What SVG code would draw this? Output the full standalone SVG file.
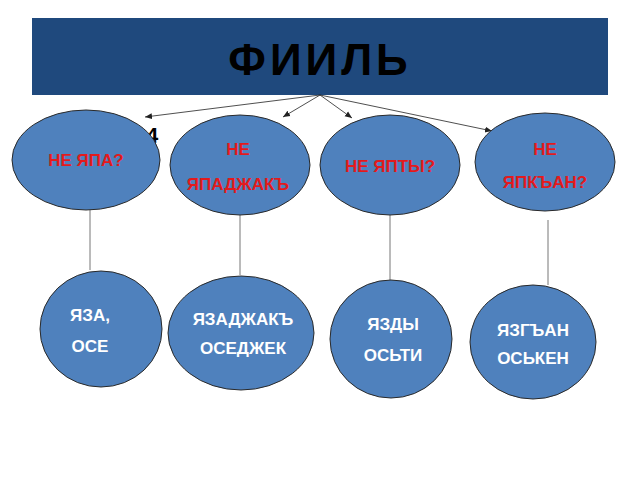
<svg xmlns="http://www.w3.org/2000/svg" width="640" height="480" viewBox="0 0 640 480">
<style>
.n{fill:#4f81bd;stroke:#2a2a2a;stroke-width:1}
.r{fill:#e31a1c;font:bold 17px "Liberation Sans",Arial,sans-serif;text-anchor:middle}
.w{fill:#fff;font:bold 17px "Liberation Sans",Arial,sans-serif;text-anchor:middle}
.c{stroke:#222;stroke-width:0.8;fill:none}
.v{stroke:#777;stroke-width:1}
</style>
<defs><marker id="a" markerWidth="8" markerHeight="8" refX="7" refY="4" orient="auto" markerUnits="userSpaceOnUse"><path d="M0,1 L7,4 L0,7 z" fill="#222"/></marker></defs>
<rect width="640" height="480" fill="#fff"/>
<g id="header"><rect x="32" y="18" width="576" height="77" fill="#1f497d"/>
<text x="320" y="75" font-family="Liberation Sans,Arial,sans-serif" font-weight="bold" font-size="44" text-anchor="middle" letter-spacing="4" fill="#000">ФИИЛЬ</text></g>
<g id="connectors">
<line class="c" x1="320" y1="95" x2="145" y2="117" marker-end="url(#a)"/>
<line class="c" x1="320" y1="95" x2="283" y2="117" marker-end="url(#a)"/>
<line class="c" x1="320" y1="95" x2="352" y2="118" marker-end="url(#a)"/>
<line class="c" x1="320" y1="95" x2="492" y2="131" marker-end="url(#a)"/>
<line class="v" x1="90" y1="210" x2="90" y2="270"/>
<line class="v" x1="240" y1="215" x2="240" y2="275"/>
<line class="v" x1="390" y1="215" x2="390" y2="280"/>
<line class="v" x1="548" y1="220" x2="548" y2="285"/>
</g>
<text x="152" y="143" font-family="Liberation Sans,Arial,sans-serif" font-weight="bold" font-size="22" text-anchor="middle">4</text>
<g id="q1"><ellipse class="n" cx="86" cy="160" rx="74" ry="50"/><text class="r" x="86" y="166">НЕ ЯПА?</text></g>
<g id="q2"><ellipse class="n" cx="240" cy="165" rx="70" ry="50"/><text class="r" x="238" y="155">НЕ</text><text class="r" x="238" y="190">ЯПАДЖАКЪ</text></g>
<g id="q3"><ellipse class="n" cx="390" cy="165" rx="70" ry="50"/><text class="r" x="390" y="172">НЕ ЯПТЫ?</text></g>
<g id="q4"><ellipse class="n" cx="545" cy="162" rx="70" ry="49"/><text class="r" x="545" y="155">НЕ</text><text class="r" x="545" y="188">ЯПКЪАН?</text></g>
<g id="a1"><ellipse class="n" cx="101" cy="329" rx="61" ry="58"/><text class="w" x="90" y="321">ЯЗА,</text><text class="w" x="90" y="352">ОСЕ</text></g>
<g id="a2"><ellipse class="n" cx="241" cy="333" rx="73" ry="57"/><text class="w" x="243" y="325">ЯЗАДЖАКЪ</text><text class="w" x="243" y="354">ОСЕДЖЕК</text></g>
<g id="a3"><ellipse class="n" cx="391" cy="339" rx="61" ry="59"/><text class="w" x="393" y="330">ЯЗДЫ</text><text class="w" x="393" y="361">ОСЬТИ</text></g>
<g id="a4"><ellipse class="n" cx="533" cy="342" rx="63" ry="57"/><text class="w" x="533" y="336">ЯЗГЪАН</text><text class="w" x="533" y="364">ОСЬКЕН</text></g>
</svg>
